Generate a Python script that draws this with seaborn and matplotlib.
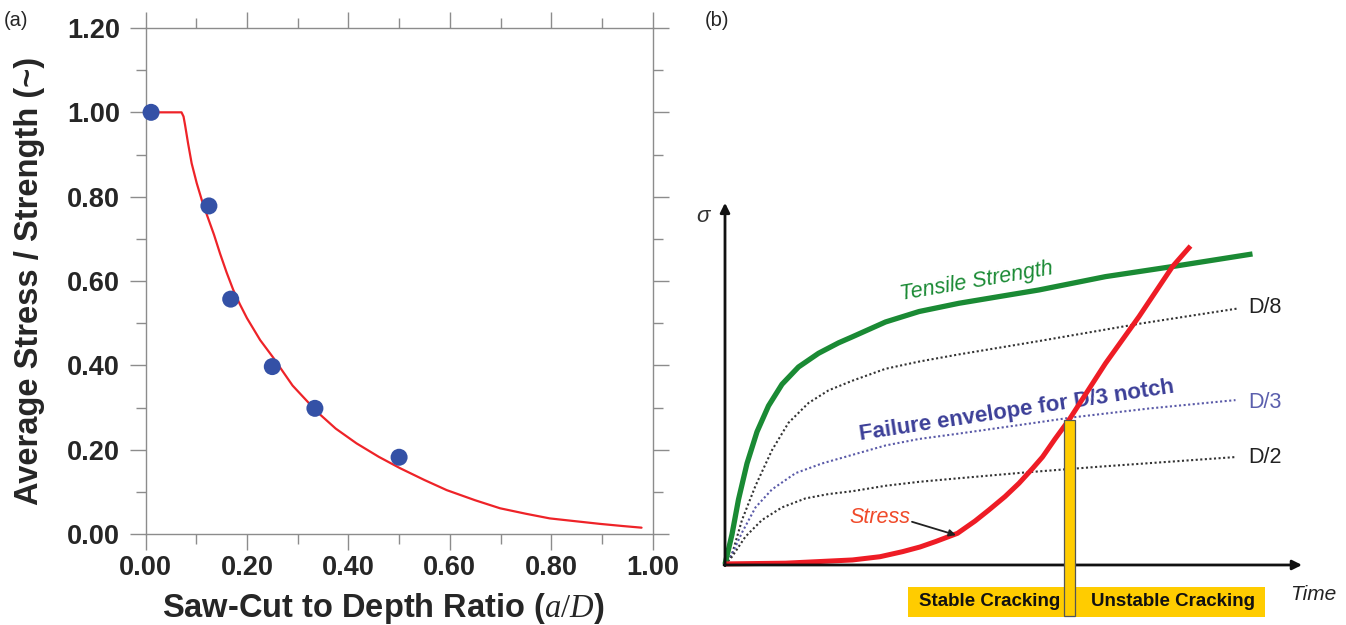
import numpy as np
import pandas as pd
import seaborn as sns
import matplotlib.pyplot as plt
from matplotlib.ticker import MultipleLocator, FormatStrFormatter

# ---- panel (a): saw-cut depth test data
cut_ratio = [0.011, 0.125, 0.168, 0.25, 0.334, 0.50]
stress_ratio = [1.00, 0.778, 0.557, 0.397, 0.298, 0.182]

fit_ratio = [0.011, 0.071, 0.075, 0.078, 0.084, 0.091, 0.101, 0.111, 0.121, 0.135,
             0.147, 0.160, 0.173, 0.186, 0.200, 0.226, 0.252, 0.290, 0.338, 0.375,
             0.416, 0.460, 0.502, 0.550, 0.594, 0.650, 0.699, 0.750, 0.797, 0.850,
             0.896, 0.940, 0.978]
fit_stress = [1.000, 1.000, 0.990, 0.970, 0.926, 0.879, 0.832, 0.792, 0.757, 0.710,
              0.665, 0.620, 0.579, 0.545, 0.512, 0.460, 0.418, 0.352, 0.290, 0.250,
              0.215, 0.183, 0.156, 0.128, 0.104, 0.080, 0.061, 0.048, 0.037, 0.030,
              0.024, 0.019, 0.015]

# ---- panel (b): schematic stress / strength development (arbitrary units)
t_strength = [0, 0.14, 0.27, 0.44, 0.64, 0.87, 1.14, 1.47, 1.87, 2.27, 2.55, 3.21,
              3.88, 4.68, 5.50, 6.28, 7.61, 8.95, 10.55]
s_strength = [0.02, 0.85, 1.82, 2.82, 3.70, 4.42, 5.02, 5.50, 5.88, 6.17, 6.34, 6.75,
              7.04, 7.27, 7.46, 7.64, 8.01, 8.29, 8.64]

t_d8 = [0, 0.14, 0.34, 0.61, 0.94, 1.27, 1.67, 2.07, 2.55, 3.21, 3.88, 4.68, 6.28, 8.28, 10.28]
s_d8 = [0, 0.30, 1.25, 2.20, 3.19, 3.95, 4.50, 4.85, 5.12, 5.45, 5.65, 5.85, 6.22, 6.70, 7.13]

t_d3 = [0, 0.14, 0.34, 0.61, 0.94, 1.41, 1.94, 2.55, 3.21, 3.88, 4.68, 6.15, 6.95, 8.50, 10.21]
s_d3 = [0, 0.30, 0.90, 1.60, 2.10, 2.55, 2.82, 3.06, 3.32, 3.50, 3.65, 3.94, 4.10, 4.35, 4.58]

t_d2 = [0, 0.14, 0.41, 0.74, 1.14, 1.61, 2.07, 2.55, 3.21, 3.88, 4.68, 6.00, 7.48, 10.23]
s_d2 = [0, 0.23, 0.79, 1.25, 1.60, 1.85, 1.97, 2.05, 2.20, 2.31, 2.41, 2.57, 2.73, 3.00]

t_stress = [0, 1.21, 2.55, 3.10, 3.55, 3.90, 4.21, 4.65, 5.00, 5.28, 5.60, 5.88, 6.15,
            6.35, 6.60, 6.88, 7.61, 8.28, 8.95, 9.31]
s_stress = [0.03, 0.05, 0.14, 0.23, 0.37, 0.50, 0.65, 0.88, 1.22, 1.53, 1.90, 2.27, 2.68,
            3.00, 3.50, 4.03, 5.60, 6.90, 8.29, 8.86]

notch_labels = ['D/8', 'D/3', 'D/2']
notch_label_y = [7.14, 4.50, 2.98]
notch_label_colors = ['#222222', '#5b5fad', '#222222']

zone_labels = ['Stable Cracking', 'Unstable Cracking']
zone_centers = [5.29, 8.96]
zone_span = [3.66, 10.79]
crack_time = [6.78, 7.00]
crack_sigma = 4.03

sns.set_style('white')
plt.rcParams['font.family'] = ['Liberation Sans', 'DejaVu Sans']
plt.rcParams['mathtext.fontset'] = 'custom'
plt.rcParams['mathtext.it'] = 'Liberation Serif:italic'
plt.rcParams['mathtext.rm'] = 'Liberation Serif'

fig = plt.figure(figsize=(13.46, 6.25), dpi=100)

# ================= panel (a)
ax = fig.add_axes([145.5 / 1346, 1 - 534 / 625, 507.2 / 1346, 506 / 625])
sns.lineplot(x=fit_ratio, y=fit_stress, ax=ax, color='#ee2328', lw=1.6,
             sort=False, estimator=None)
sns.scatterplot(x=cut_ratio, y=stress_ratio, ax=ax, color='#3451a6', s=150,
                edgecolor='none', zorder=5, clip_on=False)
ax.set_xlim(0, 1)
ax.set_ylim(0, 1.2)
ax.xaxis.set_major_locator(MultipleLocator(0.2))
ax.xaxis.set_minor_locator(MultipleLocator(0.1))
ax.yaxis.set_major_locator(MultipleLocator(0.2))
ax.yaxis.set_minor_locator(MultipleLocator(0.1))
ax.xaxis.set_major_formatter(FormatStrFormatter('%.2f'))
ax.yaxis.set_major_formatter(FormatStrFormatter('%.2f'))
ax.tick_params(which='both', direction='out', color='#8c8c8c', width=1,
               top=True, right=True, bottom=True, left=True)
ax.tick_params(which='major', length=11.5)
ax.tick_params(which='minor', length=7)
ax.tick_params(axis='x', which='major', pad=3.5)
ax.tick_params(axis='y', which='major', pad=7)
for lab in ax.get_xticklabels() + ax.get_yticklabels():
    lab.set_fontsize(19.5)
    lab.set_fontweight('bold')
for sp in ax.spines.values():
    sp.set_color('#8c8c8c')
    sp.set_linewidth(1)
ax.set_xlabel(r'Saw-Cut to Depth Ratio ($\mathit{a/D}$)', fontsize=23.5, fontweight='bold')
ax.set_ylabel('Average Stress / Strength (~)', fontsize=23.5, fontweight='bold')
ax.xaxis.set_label_coords(0.468, -0.112)
ax.yaxis.set_label_coords(-0.199, 0.5)

fig.text(16 / 1346, 1 - 21 / 625, '(a)', fontsize=14.5, family=['Liberation Sans Narrow', 'Liberation Sans'],
         ha='center', va='center')
fig.text(717 / 1346, 1 - 21 / 625, '(b)', fontsize=14.5, family=['Liberation Sans Narrow', 'Liberation Sans'],
         ha='center', va='center')

# ================= panel (b)
bx = fig.add_axes([690 / 1346, 0, 656 / 1346, 1])
bx.set_xlim(-0.70, 12.42)
bx.set_ylim(-1.667, 15.694)
bx.axis('off')

dot = (0, (1.0, 1.2))
sns.lineplot(x=t_d8, y=s_d8, ax=bx, color='#333333', lw=1.5, ls=dot, sort=False, estimator=None)
sns.lineplot(x=t_d3, y=s_d3, ax=bx, color='#5a5aa8', lw=1.5, ls=dot, sort=False, estimator=None)
sns.lineplot(x=t_d2, y=s_d2, ax=bx, color='#333333', lw=1.5, ls=dot, sort=False, estimator=None)

# axes arrows
bx.annotate('', xy=(0, 10.06), xytext=(0, -0.02),
            arrowprops=dict(arrowstyle='-|>', lw=2, color='#111111', mutation_scale=14, shrinkA=0, shrinkB=0))
bx.annotate('', xy=(11.54, 0), xytext=(-0.02, 0),
            arrowprops=dict(arrowstyle='-|>', lw=2, color='#111111', mutation_scale=14, shrinkA=0, shrinkB=0))

bx.text(5.84, 4.29, 'Failure envelope for D/3 notch', color='#3c3f98', fontsize=16,
        fontweight='bold', rotation=8.6, rotation_mode='anchor', ha='center', va='center', zorder=2)

sns.lineplot(x=t_strength, y=s_strength, ax=bx, color='#1a8a34', lw=3.8, sort=False, estimator=None)
sns.lineplot(x=t_stress, y=s_stress, ax=bx, color='#ee1c25', lw=3.6, sort=False, estimator=None)
for line in bx.get_lines():
    line.set_solid_capstyle('butt')
    line.set_solid_joinstyle('round')

# cracking zone boxes and the crack-onset bar
bx.bar((zone_span[0] + zone_span[1]) / 2, 0.835, width=zone_span[1] - zone_span[0],
       bottom=-1.435, color='#ffcc00', edgecolor='none', zorder=4)
bx.bar((crack_time[0] + crack_time[1]) / 2, crack_sigma + 1.42, width=crack_time[1] - crack_time[0],
       bottom=-1.42, color='#ffcc00', edgecolor='#555555', lw=0.9, zorder=5)
for lab, xc in zip(zone_labels, zone_centers):
    bx.text(xc, -1.02, lab, fontsize=13.5, fontweight='bold', color='#111111',
            ha='center', va='center', zorder=6)

bx.text(5.04, 7.86, 'Tensile Strength', color='#1a8a34', fontsize=15.5, style='italic',
        rotation=9.7, rotation_mode='anchor', ha='center', va='center')
for lab, yv, c in zip(notch_labels, notch_label_y, notch_label_colors):
    bx.text(10.46, yv, lab, color=c, fontsize=15.5, ha='left', va='center')

bx.text(3.1, 1.31, 'Stress', color='#f04a2a', fontsize=15.5, style='italic', ha='center', va='center')
bx.annotate('', xy=(4.62, 0.83), xytext=(3.74, 1.2),
            arrowprops=dict(arrowstyle='-|>', lw=1.3, color='#222222', mutation_scale=10,
                            shrinkA=0, shrinkB=0))

bx.text(-0.45, 9.68, 'σ', fontsize=16, style='italic', color='#333333', ha='center', va='center')
bx.text(11.76, -0.83, 'Time', fontsize=15, style='italic', color='#222222', ha='center', va='center')

plt.savefig('out.png', dpi=100)
